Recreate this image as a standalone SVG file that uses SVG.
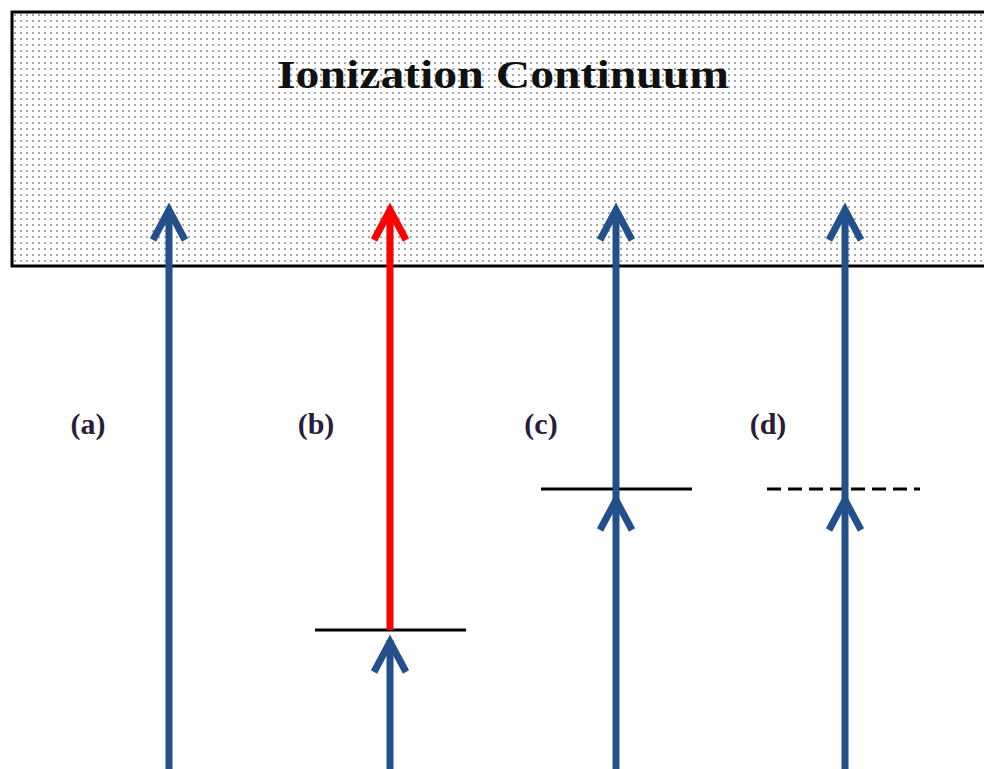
<svg xmlns="http://www.w3.org/2000/svg" width="984" height="769" viewBox="0 0 984 769">
<defs>
<pattern id="dots" width="6" height="6" patternUnits="userSpaceOnUse">
<rect width="6" height="6" fill="#ffffff"/>
<circle cx="3" cy="3" r="1" fill="#8a8a8a"/>
</pattern>
<style>
.lbl{font-family:"Liberation Serif","Times New Roman",serif;font-weight:bold;font-size:30px;fill:#2b1d3a}
.blue{stroke:#23508a;stroke-width:7;fill:none}
.red{stroke:#ff0000;stroke-width:7;fill:none}
.head{stroke-width:7;fill:none;stroke-linejoin:miter;stroke-linecap:butt}
.lvl{stroke:#000;stroke-width:3}
</style>
</defs>
<rect width="984" height="769" fill="#ffffff"/>
<g id="continuum">
<rect x="12" y="12" width="990" height="254" fill="url(#dots)" stroke="#000" stroke-width="3"/>
<text x="503" y="88" text-anchor="middle" font-family="'Liberation Serif','Times New Roman',serif" font-weight="bold" font-size="40" fill="#111" textLength="452" lengthAdjust="spacingAndGlyphs">Ionization Continuum</text>
</g>
<g id="levels">
<line class="lvl" x1="315" y1="630" x2="466" y2="630"/>
<line class="lvl" x1="541" y1="489" x2="692" y2="489"/>
<line class="lvl" x1="767" y1="489" x2="920" y2="489" stroke-dasharray="14,7"/>
</g>
<g id="connectors">
<g id="arrow-a">
<line class="blue" x1="169" y1="769" x2="169" y2="210"/>
<path class="blue head" d="M153 240 L169 210 L185 240"/>
</g>
<g id="arrow-b">
<line class="blue" x1="390" y1="769" x2="390" y2="640"/>
<path class="blue head" d="M374 672 L390 642 L406 672"/>
<line class="red" x1="390" y1="630" x2="390" y2="210"/>
<path class="red head" d="M374 240 L390 210 L406 240"/>
</g>
<g id="arrow-c">
<line class="blue" x1="616" y1="769" x2="616" y2="210"/>
<path class="blue head" d="M600 530 L616 500 L632 530"/>
<path class="blue head" d="M600 240 L616 210 L632 240"/>
</g>
<g id="arrow-d">
<line class="blue" x1="845" y1="769" x2="845" y2="210"/>
<path class="blue head" d="M829 530 L845 500 L861 530"/>
<path class="blue head" d="M829 240 L845 210 L861 240"/>
</g>
</g>
<g id="labels">
<text class="lbl" x="88" y="434" text-anchor="middle">(a)</text>
<text class="lbl" x="316" y="434" text-anchor="middle">(b)</text>
<text class="lbl" x="541" y="434" text-anchor="middle">(c)</text>
<text class="lbl" x="768" y="434" text-anchor="middle">(d)</text>
</g>
</svg>
